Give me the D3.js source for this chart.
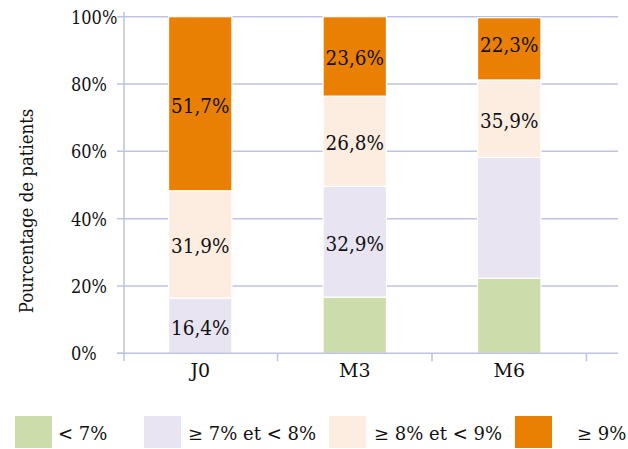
<!DOCTYPE html>
<html><head><meta charset="utf-8">
<script src="https://cdn.jsdelivr.net/npm/d3@7"></script>
<style>body{margin:0;background:#fff}svg{display:block}</style>
</head><body><svg id="c" width="628" height="449" font-family="'DejaVu Serif', 'Noto Serif', 'Liberation Serif', serif"></svg>
<script>
// ---- data ----
const categories = ["J0", "M3", "M6"];
const seriesNames = ["< 7%", "\u2265 7% et < 8%", "\u2265 8% et < 9%", "\u2265 9%"];
const lt7     = [0, 16.7, 22.3];
const from7to8 = [16.4, 32.9, 35.9];
const from8to9 = [31.9, 26.8, 23.0];
const ge9     = [51.7, 23.6, 18.5];
const labelsLt7   = [null, null, null];
const labels7to8  = ["16,4%", "32,9%", null];
const labels8to9  = ["31,9%", "26,8%", "35,9%"];
const labelsGe9   = ["51,7%", "23,6%", "22,3%"];
const yTicks = [0, 20, 40, 60, 80, 100];
const yTickLabels = ["0%", "20%", "40%", "60%", "80%", "100%"];
const yTitle = "Pourcentage de patients";

// ---- layout / style ----
const colors = ["#cddcab", "#e8e4f1", "#fdede1", "#e98004"];
const gridColor = "#bfc2e2";
const textColor = "#111";
const series = [lt7, from7to8, from8to9, ge9];
const seriesLabels = [labelsLt7, labels7to8, labels8to9, labelsGe9];

function squeeze(sel, f) {
  sel.each(function () {
    const w = this.getComputedTextLength();
    d3.select(this).attr("textLength", w * f).attr("lengthAdjust", "spacingAndGlyphs");
  });
}

const svg = d3.select("#c");
const y = d3.scaleLinear().domain([0, 100]).range([353.3, 16.7]);
const xBand = d3.scaleBand().domain(categories).range([123, 586.5]).padding(0);
const xBar = d3.scaleBand().domain(categories).range([123, 586.5]).paddingInner(0.59).paddingOuter(0.295);
const axisX = 124, plotRight = 618;

// gridlines
svg.append("g").selectAll("line").data(yTicks.filter(d => d > 0)).join("line")
  .attr("x1", axisX).attr("x2", plotRight)
  .attr("y1", d => y(d)).attr("y2", d => y(d))
  .attr("stroke", gridColor).attr("stroke-width", 1.5);

// stacked data
const rows = categories.map((c, i) => {
  const o = {cat: c};
  seriesNames.forEach((s, k) => o[s] = series[k][i]);
  return o;
});
const stack = d3.stack().keys(seriesNames)(rows);

const gBars = svg.append("g");
stack.forEach((layer, k) => {
  gBars.append("g").selectAll("rect").data(layer).join("rect")
    .attr("x", d => xBar(d.data.cat))
    .attr("width", xBar.bandwidth())
    .attr("y", d => y(d[1]))
    .attr("height", d => Math.max(0, y(d[0]) - y(d[1])))
    .attr("fill", colors[k])
    .attr("stroke", "#fff").attr("stroke-width", 1.2);
});

// value labels
const gLab = svg.append("g");
stack.forEach((layer, k) => {
  layer.forEach((d, i) => {
    const t = seriesLabels[k][i];
    if (!t) return;
    const top = y(d[1]), bot = y(d[0]);
    const cy = (bot - top) < 70 && k === 3 ? top + (bot - top) * 0.4 : (top + bot) / 2;
    gLab.append("text")
      .attr("x", xBar(d.data.cat) + xBar.bandwidth() / 2)
      .attr("y", cy + 9)
      .attr("text-anchor", "middle")
      .attr("font-size", 20)
      .attr("fill", textColor)
      .text(t);
  });
});
squeeze(gLab.selectAll("text"), 0.92);

// axes lines
svg.append("line").attr("x1", axisX).attr("x2", axisX).attr("y1", 12).attr("y2", 361)
  .attr("stroke", gridColor).attr("stroke-width", 1.5);
svg.append("line").attr("x1", 117).attr("x2", plotRight).attr("y1", y(0)).attr("y2", y(0))
  .attr("stroke", gridColor).attr("stroke-width", 1.5);
svg.append("g").selectAll("line").data(yTicks).join("line")
  .attr("x1", 117).attr("x2", axisX).attr("y1", d => y(d)).attr("y2", d => y(d))
  .attr("stroke", gridColor).attr("stroke-width", 1.5);
svg.append("g").selectAll("line").data(categories).join("line")
  .attr("x1", d => xBand(d) + xBand.bandwidth()).attr("x2", d => xBand(d) + xBand.bandwidth())
  .attr("y1", y(0)).attr("y2", y(0) + 8)
  .attr("stroke", gridColor).attr("stroke-width", 1.5);

// y tick labels
const yt = svg.append("g").selectAll("text").data(yTicks).join("text")
  .attr("x", 71).attr("y", d => y(d) + 7)
  .attr("font-size", 18).attr("fill", textColor)
  .text((d, i) => yTickLabels[i]);
squeeze(yt, 0.9);

// x labels
svg.append("g").selectAll("text").data(categories).join("text")
  .attr("x", d => xBand(d) + xBand.bandwidth() / 2)
  .attr("y", 377)
  .attr("text-anchor", "middle")
  .attr("font-size", 19).attr("fill", textColor)
  .text(d => d);

// y title
const yTitleEl = svg.append("text")
  .attr("transform", "translate(33,211) rotate(-90)")
  .attr("text-anchor", "middle")
  .attr("font-size", 18).attr("fill", textColor)
  .text(yTitle);
squeeze(yTitleEl, 0.92);

// legend
const legendBoxX = [15, 144, 329, 515];
const legendTextX = [58, 188, 374, 577];
seriesNames.forEach((s, k) => {
  svg.append("rect").attr("x", legendBoxX[k]).attr("y", 416).attr("width", 37).attr("height", 32)
    .attr("fill", colors[k]);
  svg.append("text").attr("x", legendTextX[k]).attr("y", 440).attr("font-size", 18)
    .attr("fill", textColor).text(s);
});
</script></body></html>
